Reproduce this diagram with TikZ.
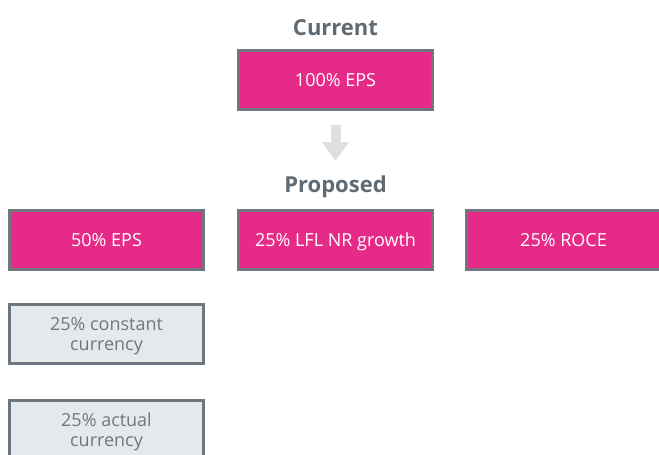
\documentclass[tikz,border=0pt]{standalone}
\usepackage{fontspec}
\setmainfont{Open Sans}
\usetikzlibrary{positioning,arrows.meta}
\definecolor{boxpink}{HTML}{E62A87}
\definecolor{boxgrey}{HTML}{E6E9EB}
\definecolor{edgegrey}{HTML}{6E7780}
\definecolor{titlegrey}{HTML}{5F6A73}
\definecolor{arrowgrey}{HTML}{DDE0E3}
\begin{document}
\begin{tikzpicture}
[
    x=1pt, y=-1pt,
    heading/.style={font=\fontsize{22}{24}\bfseries\selectfont, text=titlegrey, inner sep=0pt},
    measure/.style={draw=edgegrey, line width=3pt, minimum width=194pt, minimum height=59pt,
        align=center, font=\fontsize{18}{20}\selectfont, text depth=0pt},
    pinkbox/.style={measure, fill=boxpink, text=white},
    greybox/.style={measure, fill=boxgrey, text=edgegrey},
    downarrow/.style={draw=arrowgrey, line width=10pt, -{Triangle[width=26pt,length=19pt]}},
]
\useasboundingbox (0,0) rectangle (659,455);
\node[heading] (current) at (335.5,28) {Current};
\node[pinkbox] (eps100) at (335.5,80) {100\% EPS};
\coordinate (arrtip) at (335.5,161);
\draw[downarrow, shorten <=14pt] (eps100.south) -- (arrtip);
\node[heading] (proposed) at (335.5,187) {Proposed};
\node[pinkbox] (lfl) at (335.5,239.5) {25\% LFL NR growth};
\node[pinkbox, left=32pt of lfl] (eps50) {50\% EPS};
\node[pinkbox, right=31pt of lfl] (roce) {25\% ROCE};
\node[greybox, below=32pt of eps50] (constcur) {25\% constant\\currency};
\node[greybox, below=34pt of constcur] (actualcur) {25\% actual\\currency};
\end{tikzpicture}
\end{document}
